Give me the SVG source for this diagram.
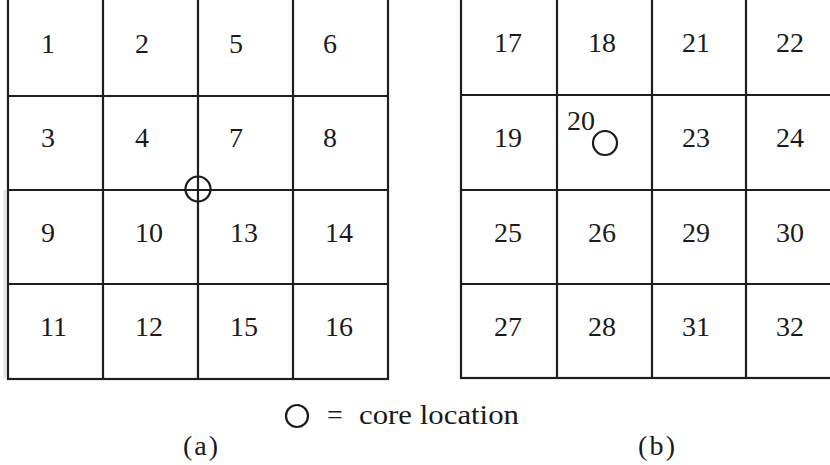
<svg xmlns="http://www.w3.org/2000/svg" width="830" height="465" viewBox="0 0 830 465">
<style>
.g{fill:none;stroke:#1e1e1e;stroke-width:2.2}
.c{fill:none;stroke:#1a1a1a;stroke-width:2.2}
</style>
<rect width="830" height="465" fill="#fff"/>
<line x1="5" y1="190" x2="5" y2="378" stroke="#e4e4e4" stroke-width="3"/>
<g id="gridA">
<rect class="g" x="8" y="-2" width="380" height="381"/>
<line class="g" x1="103" y1="-2" x2="103" y2="379"/>
<line class="g" x1="198" y1="-2" x2="198" y2="379" stroke-width="2.6"/>
<line class="g" x1="293" y1="-2" x2="293" y2="379"/>
<line class="g" x1="8" y1="96" x2="388" y2="96"/>
<line class="g" x1="8" y1="190" x2="388" y2="190" stroke-width="2.6"/>
<line class="g" x1="8" y1="284" x2="388" y2="284"/>
</g>
<g id="cellsA" font-family="Liberation Serif, DejaVu Serif, serif" font-size="28" fill="#1a1a1a">
<text x="41" y="53">1</text><text x="135" y="53">2</text><text x="229" y="53">5</text><text x="323" y="53">6</text>
<text x="41" y="147">3</text><text x="135" y="147">4</text><text x="229" y="147">7</text><text x="323" y="147">8</text>
<text x="41" y="242">9</text><text x="135" y="242">10</text><text x="230" y="242">13</text><text x="325" y="242">14</text>
<text x="40" y="336">11</text><text x="135" y="336">12</text><text x="230" y="336">15</text><text x="325" y="336">16</text>
</g>
<g id="coreA"><circle class="c" cx="198" cy="189" r="12.5"/></g>
<g id="gridB">
<rect class="g" x="461" y="-2" width="385" height="380"/>
<line class="g" x1="557" y1="-2" x2="557" y2="378"/>
<line class="g" x1="652" y1="-2" x2="652" y2="378"/>
<line class="g" x1="746" y1="-2" x2="746" y2="378"/>
<line class="g" x1="461" y1="95" x2="846" y2="95"/>
<line class="g" x1="461" y1="190" x2="846" y2="190"/>
<line class="g" x1="461" y1="284" x2="846" y2="284"/>
</g>
<g id="cellsB" font-family="Liberation Serif, DejaVu Serif, serif" font-size="28" fill="#1a1a1a">
<text x="494" y="52">17</text><text x="588" y="52">18</text><text x="682" y="52">21</text><text x="776" y="52">22</text>
<text x="494" y="147">19</text><text x="567" y="130">20</text><text x="682" y="147">23</text><text x="776" y="147">24</text>
<text x="494" y="242">25</text><text x="588" y="242">26</text><text x="682" y="242">29</text><text x="776" y="242">30</text>
<text x="494" y="336">27</text><text x="588" y="336">28</text><text x="682" y="336">31</text><text x="776" y="336">32</text>
</g>
<g id="coreB"><circle class="c" cx="605" cy="143" r="12"/></g>
<g id="legend" font-family="Liberation Serif, DejaVu Serif, serif" font-size="28" fill="#1a1a1a">
<circle class="c" cx="297" cy="416" r="11"/>
<text x="327" y="424">=</text>
<text x="359" y="424" textLength="160" lengthAdjust="spacingAndGlyphs">core location</text>
</g>
<g id="captions" font-family="Liberation Serif, DejaVu Serif, serif" font-size="28" fill="#1a1a1a">
<text x="183" y="455" textLength="35" lengthAdjust="spacing">(a)</text>
<text x="638" y="455" textLength="37" lengthAdjust="spacing">(b)</text>
</g>
</svg>
